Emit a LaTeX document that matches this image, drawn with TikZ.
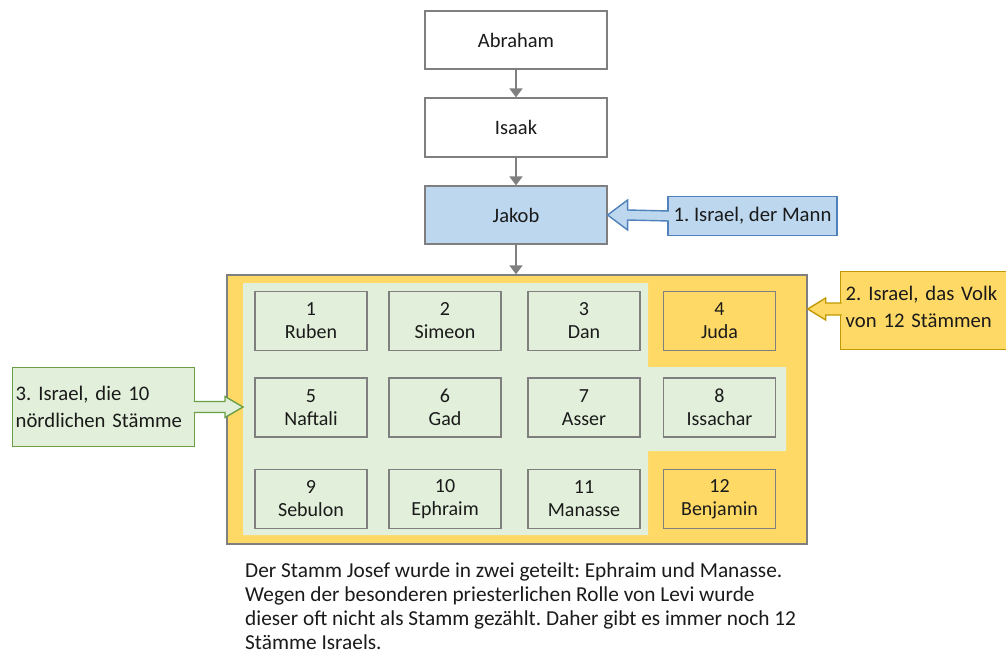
\documentclass[tikz,border=0pt]{standalone}
\usepackage{fontspec}
\setmainfont{Carlito}
\usetikzlibrary{arrows.meta,calc}
\frenchspacing

\definecolor{boxgray}{HTML}{7F7F7F}
\definecolor{jakobblue}{HTML}{BDD7EE}
\definecolor{blueedge}{HTML}{4F81BD}
\definecolor{volkyellow}{HTML}{FFD966}
\definecolor{yellowedge}{HTML}{C09A00}
\definecolor{nordgreen}{HTML}{E2EFDA}
\definecolor{greenedge}{HTML}{6A9F46}
\definecolor{txt}{HTML}{1A1A1A}

\newcommand{\setfs}[2]{\fontsize{#1}{#2}\selectfont}

\tikzset{
  person/.style={draw=boxgray, line width=1.3pt, fill=white, minimum width=182,
    minimum height=58, inner sep=0pt, font=\setfs{20.5}{24}, text=txt},
  tribe/.style={draw=boxgray, line width=1.5pt, minimum width=112, minimum height=59,
    inner sep=0pt, align=center, font=\setfs{20}{23}, text=txt},
  ntribe/.style={tribe, fill=nordgreen},
  ytribe/.style={tribe, fill=volkyellow},
  flow/.style={draw=boxgray, line width=2pt, -{Triangle[width=13pt,length=9pt]}},
  callout/.style={line width=1.4pt, inner sep=0pt, align=left, font=\setfs{20.7}{27}, text=txt},
}

\begin{document}
\begin{tikzpicture}[x=1pt, y=-1pt]
  \useasboundingbox (0,0) rectangle (1006,655);

  % ancestors
  \node[person] (abraham) at (516,40) {Abraham};
  \node[person, minimum height=59] (isaak) at (516,127.5) {Isaak};
  \node[person, fill=jakobblue] (jakob) at (516,215) {Jakob};

  % the people of twelve tribes
  \node[draw=boxgray, line width=1.4pt, fill=volkyellow, minimum width=580,
        minimum height=269, inner sep=0pt] (volk) at (517,409.5) {};

  % the ten northern tribes
  \fill[nordgreen] (243,283) -- (648,283) -- (648,367) -- (786,367) -- (786,451)
    -- (648,451) -- (648,535) -- (243,535) -- cycle;

  \node[ntribe] (t1)  at (311,321)   {1\\Ruben};
  \node[ntribe] (t2)  at (445,321)   {2\\Simeon};
  \node[ntribe] (t3)  at (584,321)   {3\\Dan};
  \node[ytribe] (t4)  at (719.5,321) {4\\Juda};
  \node[ntribe] (t5)  at (311,407.5) {5\\Naftali};
  \node[ntribe] (t6)  at (445,407.5) {6\\Gad};
  \node[ntribe] (t7)  at (584,407.5) {7\\Asser};
  \node[ntribe] (t8)  at (719.5,407.5) {8\\Issachar};
  \node[ntribe] (t9)  at (311,499)   {9\\Sebulon};
  \node[ntribe] (t10) at (445,499)   {10\\Ephraim};
  \node[ntribe] (t11) at (584,499)   {11\\Manasse};
  \node[ytribe] (t12) at (719.5,499) {12\\Benjamin};

  % lineage arrows
  \draw[flow] (abraham.south) -- (isaak.north);
  \draw[flow] (isaak.south) -- (jakob.north);
  \draw[flow] (jakob.south) -- (jakob.south |- volk.north);

  % callout 1: Israel, the man
  \node[callout, draw=blueedge, fill=jakobblue, minimum width=169, minimum height=39]
        (c1) at (752.5,216) {1. Israel, der Mann};
  \draw[line width=1.4pt, draw=blueedge, fill=jakobblue, line join=miter]
    ($(c1.west)+(1.6,-5)$) -- ($(jakob.east)+(20,-5)$) -- ($(jakob.east)+(20,-15)$)
    -- (jakob.east) -- ($(jakob.east)+(20,15)$) -- ($(jakob.east)+(20,5)$)
    -- ($(c1.west)+(1.6,5)$);

  % callout 2: Israel, the people of twelve tribes
  \node[callout, draw=yellowedge, fill=volkyellow, minimum width=172, minimum height=78,
        text width=162, anchor=north west] (c2) at (840,271)
        {2. Israel, das Volk\\von 12 Stämmen\vphantom{g}\\[-19pt]\mbox{}};
  \coordinate (tip2) at (volk.east |- 0,309);
  \draw[line width=1.4pt, draw=yellowedge, fill=volkyellow, line join=miter]
    ($(c2.west |- tip2)+(1.6,-6)$) -- ($(tip2)+(18,-6)$) -- ($(tip2)+(18,-11)$)
    -- (tip2) -- ($(tip2)+(18,11)$) -- ($(tip2)+(18,6)$)
    -- ($(c2.west |- tip2)+(1.6,6)$);

  % callout 3: Israel, the ten northern tribes
  \node[callout, draw=greenedge, fill=nordgreen, minimum width=182, minimum height=79,
        text width=176, anchor=north west] (c3) at (12,367)
        {3. Israel, die 10\\nördlichen Stämme};
  \coordinate (tip3) at (243,407);
  \draw[line width=1.4pt, draw=greenedge, fill=nordgreen, line join=miter]
    ($(c3.east |- tip3)+(-1.6,-5.5)$) -- ($(tip3)+(-18,-5.5)$) -- ($(tip3)+(-18,-10.5)$)
    -- (tip3) -- ($(tip3)+(-18,10.5)$) -- ($(tip3)+(-18,5.5)$)
    -- ($(c3.east |- tip3)+(-1.6,5.5)$);

  % note below
  \node[anchor=north west, inner sep=0pt, align=left, text=txt,
        font=\setfs{21.3}{24}] (note) at (245,563)
    {Der Stamm Josef wurde in zwei geteilt: Ephraim und Manasse.\\
     Wegen der besonderen priesterlichen Rolle von Levi wurde\\
     dieser oft nicht als Stamm gezählt. Daher gibt es immer noch 12\\
     Stämme Israels.};
\end{tikzpicture}
\end{document}
